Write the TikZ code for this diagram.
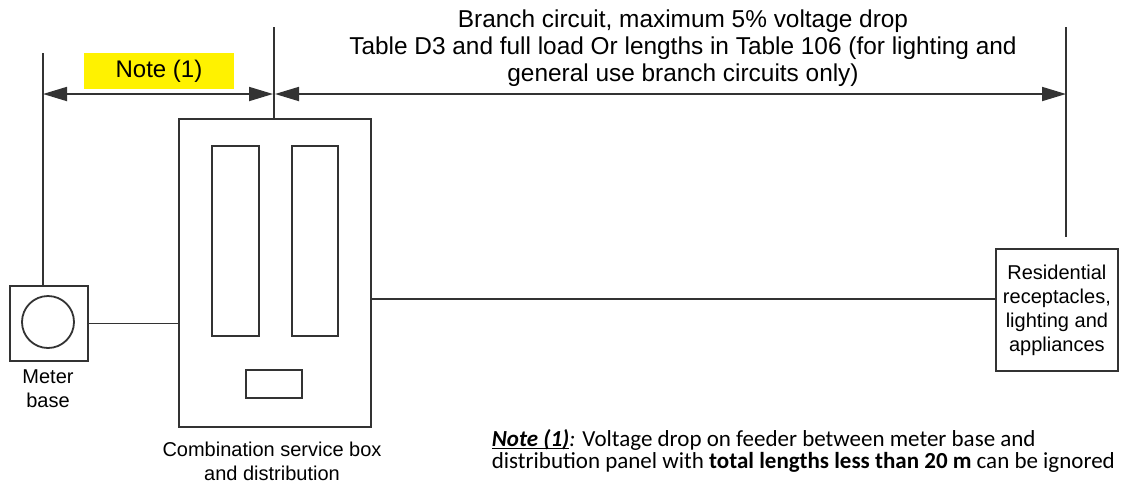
\documentclass[tikz,border=0pt]{standalone}
\usepackage{fontspec}
\setmainfont{Liberation Sans}
\newfontfamily\notefont{Carlito}
\usetikzlibrary{arrows.meta, positioning}

\newcommand\noteul[1]{\setbox0\hbox{#1}\rlap{\rule[-1.4pt]{\wd0}{0.6pt}}\box0}

\tikzset{
    box/.style = {draw, inner sep=0pt, anchor=north west},
    dim/.style = {{Triangle[length=12pt,width=7pt]}-{Triangle[length=12pt,width=7pt]}},
    label/.style = {align=center, font=\fontsize{10}{12}\selectfont, inner sep=0pt}
}

\begin{document}
\begin{tikzpicture} [x=0.5pt, y=-0.5pt, line width=0.9pt, draw=black!80]
    \useasboundingbox (0,0) rectangle (1130,483);

    % meter base
    \node (meter) [box, minimum width=39pt, minimum height=37.5pt] at (9,285) {};
    \node (dial) [draw, circle, minimum size=26pt, inner sep=0pt] at (48,322) {};
    \node (meterlbl) [label] at (48,389) {Meter\\base};

    % combination service box
    \node (combo) [box, minimum width=96pt, minimum height=154pt] at (178,118) {};
    \node (brk1) [box, minimum width=23.5pt, minimum height=95pt] at (211,145) {};
    \node (brk2) [box, minimum width=23pt, minimum height=95pt] at (291,145) {};
    \node (main) [box, minimum width=28pt, minimum height=14pt] at (245,369) {};
    \node (combolbl) [label] at (272,461) {Combination service box\\and distribution};

    % load
    \node (load) [box, label, minimum width=61pt, minimum height=61pt] at (995,248) {Residential\\receptacles,\\lighting and\\appliances};

    % feeders
    \draw (meter.east) -- (meter.east -| combo.west);
    \coordinate (feed) at (0,299);
    \draw (combo.east |- feed) -- (load.west |- feed);

    % extension lines
    \coordinate (mtop) at (43,53);
    \coordinate (ctop) at (274,27);
    \coordinate (rtop) at (1066,27);
    \coordinate (rbot) at (1066,237);
    \draw (mtop) -- (mtop |- meter.north);
    \draw (ctop) -- (ctop |- combo.north);
    \draw (rtop) -- (rbot);

    % dimensions
    \coordinate (dimy) at (0,94);
    \draw[dim] (mtop |- dimy) -- ([xshift=-0.5pt]ctop |- dimy);
    \draw[dim] ([xshift=0.5pt]ctop |- dimy) -- (rtop |- dimy);

    \node (note) [fill=yellow, minimum width=75pt, minimum height=17pt, font=\fontsize{12}{14}\selectfont] at (159,71) {Note (1)};
    \node (branch) [align=center, inner sep=0pt, font=\fontsize{12.2}{13.5}\selectfont] at (683,48) {Branch circuit, maximum 5\% voltage drop\\Table D3 and full load Or lengths in Table 106 (for lighting and\\general use branch circuits only)};

    \node (remark) [anchor=west, align=left, inner sep=0pt, font=\notefont\fontsize{11.5}{11}\selectfont] at (491,451) {\noteul{\textbf{\textit{Note (1)}}}\textit{:} Voltage drop on feeder between meter base and\\distribution panel with \textbf{total lengths less than 20 m} can be ignored};
\end{tikzpicture}
\end{document}
